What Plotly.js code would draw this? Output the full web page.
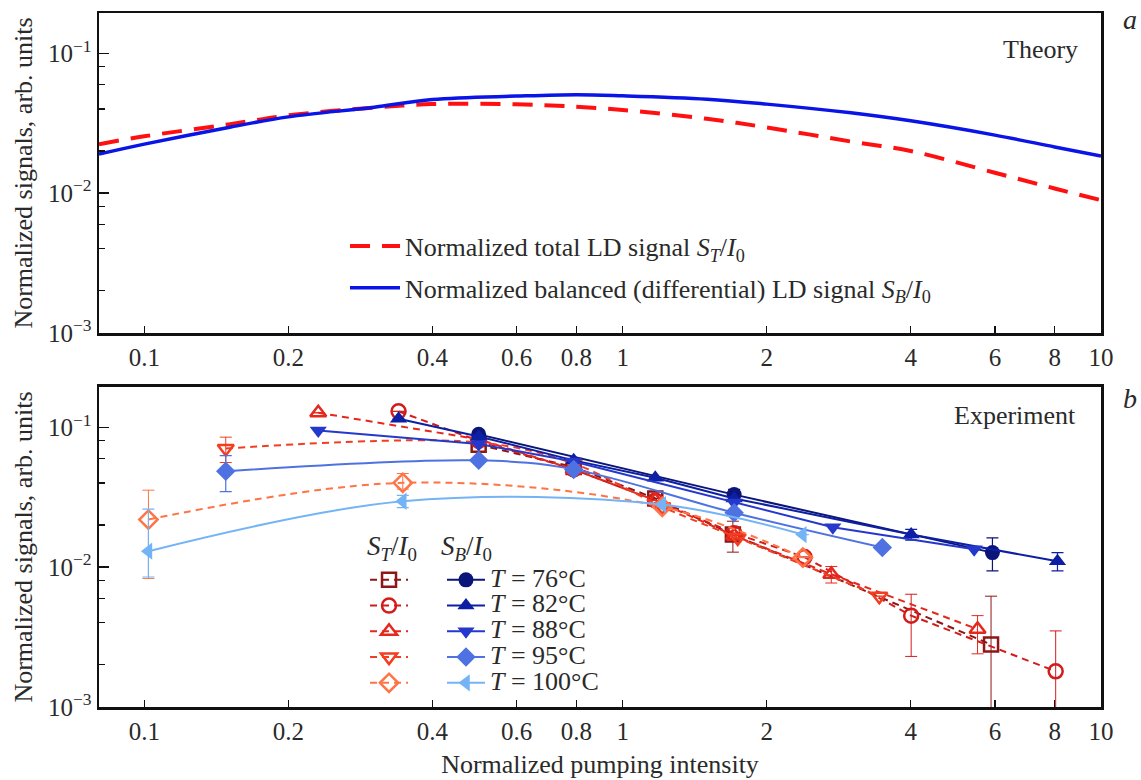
<!DOCTYPE html>
<html><head><meta charset="utf-8">
<script src="https://cdn.plot.ly/plotly-3.0.1.min.js"></script>
<style>html,body{margin:0;padding:0;background:#fff;} #chart{width:1141px;height:780px;}</style>
</head><body><div id="chart"></div>
<script>
// ---------- Theory (panel a) ----------
const thX  = [0.0804, 0.1, 0.15, 0.2, 0.3, 0.4, 0.6, 0.8, 1, 1.5, 2, 3, 4, 6, 8, 10];
const thST = [0.0224, 0.0255, 0.031, 0.036, 0.0408, 0.0433, 0.0432, 0.0415, 0.0393, 0.034, 0.0295, 0.0234, 0.020, 0.014, 0.0108, 0.0089];
const thSB = [0.019, 0.0224, 0.0295, 0.0351, 0.041, 0.0467, 0.0494, 0.0506, 0.0497, 0.047, 0.0433, 0.0375, 0.0329, 0.026, 0.0214, 0.0184];

// ---------- Experiment (panel b) : S_T / I0 ----------
const tempLabels = ['76', '82', '88', '95', '100'];
const T76x = [0.50, 0.79, 1.17, 1.70, 5.89];
const T76y = [0.075, 0.052, 0.031, 0.0171, 0.0028];
const T76ep = [0, 0, 0, 0.0042, 0.0034];
const T76em = [0, 0, 0, 0.0043, 0.0027];

const T82x = [0.34, 0.50, 0.79, 1.17, 1.71, 2.40, 4.01, 8.04];
const T82y = [0.130, 0.080, 0.050, 0.030, 0.0175, 0.0118, 0.0045, 0.0018];
const T82ep = [0, 0, 0, 0, 0, 0, 0.0019, 0.0017];
const T82em = [0, 0, 0, 0, 0, 0, 0.0022, 0.0017];

const T88x = [0.231, 0.50, 0.79, 1.17, 1.71, 2.73, 5.52];
const T88y = [0.127, 0.082, 0.050, 0.030, 0.0168, 0.0089, 0.0036];
const T88ep = [0, 0, 0, 0, 0, 0.0012, 0.0009];
const T88em = [0, 0, 0, 0, 0, 0.0012, 0.0012];

const T95x = [0.148, 0.50, 0.79, 1.21, 1.74, 3.44];
const T95y = [0.0705, 0.078, 0.055, 0.027, 0.0162, 0.0062];
const T95ep = [0.0145, 0, 0, 0, 0, 0];
const T95em = [0.0145, 0, 0, 0, 0, 0];

const T100x = [0.102, 0.347, 1.21, 2.38];
const T100y = [0.0219, 0.0401, 0.027, 0.0117];
const T100ep = [0.0136, 0.0066, 0, 0];
const T100em = [0.0136, 0.0040, 0, 0];

// ---------- Experiment (panel b) : S_B / I0 ----------
const B76x = [0.50, 1.71, 5.93];
const B76y = [0.089, 0.033, 0.0127];
const B76ep = [0, 0.003, 0.0035];
const B76em = [0, 0.003, 0.0033];

const B82x = [0.34, 0.50, 0.79, 1.17, 1.71, 4.01, 8.11];
const B82y = [0.115, 0.086, 0.058, 0.0436, 0.031, 0.0171, 0.011];
const B82ep = [0, 0, 0, 0, 0, 0.0015, 0.0017];
const B82em = [0, 0, 0, 0, 0, 0.0015, 0.0016];

const B88x = [0.231, 0.50, 0.79, 1.71, 2.75, 5.43];
const B88y = [0.0947, 0.076, 0.057, 0.029, 0.0193, 0.0134];

const B95x = [0.148, 0.50, 0.79, 1.71, 3.49];
const B95y = [0.0485, 0.058, 0.050, 0.0245, 0.0138];
const B95ep = [0.0143, 0, 0, 0, 0];
const B95em = [0.0138, 0, 0, 0, 0];

const B100x = [0.102, 0.347, 1.21, 2.38];
const B100y = [0.013, 0.0296, 0.028, 0.0171];
const B100ep = [0.013, 0.003, 0, 0];
const B100em = [0.0045, 0.003, 0, 0];

// ---------- axis ticks ----------
const xTickVals = [0.1, 0.2, 0.4, 0.6, 0.8, 1, 2, 4, 6, 8, 10];
const xTickText = ['0.1', '0.2', '0.4', '0.6', '0.8', '1', '2', '4', '6', '8', '10'];
const yTickVals = [0.001, 0.01, 0.1];
const yTickText = ['10<sup>\u22123</sup>', '10<sup>\u22122</sup>', '10<sup>\u22121</sup>'];
const yMinorVals = [0.002, 0.004, 0.006, 0.008, 0.02, 0.04, 0.06, 0.08];

const FONT = '"Liberation Serif", "Times New Roman", serif';
const TXT = '#2a2a2a';

const colT = ['#8e1616', '#d21c1c', '#e4281e', '#f23e20', '#ff7345'];
const colB = ['#0b1478', '#0d1fa3', '#2538cc', '#4f72e2', '#74b4f6'];

function tTrace(x, y, ep, em, sym, c, name, shape) {
  return {
    x: x, y: y, xaxis: 'x2', yaxis: 'y2', legend: 'legend2', name: name,
    mode: 'lines+markers', type: 'scatter',
    line: {color: c, width: 2, dash: '7px,5px', shape: shape || 'linear'},
    marker: {symbol: sym, size: 14, color: c, line: {width: 2.5, color: c}},
    error_y: {type: 'data', symmetric: false, array: ep, arrayminus: em, color: c, thickness: 1, width: 6}
  };
}
function bTrace(x, y, ep, em, sym, c, name, shape) {
  return {
    x: x, y: y, xaxis: 'x2', yaxis: 'y2', legend: 'legend3', name: name,
    mode: 'lines+markers', type: 'scatter',
    line: {color: c, width: 2, shape: shape || 'linear'},
    marker: {symbol: sym, size: 15, color: c},
    error_y: ep ? {type: 'data', symmetric: false, array: ep, arrayminus: em, color: c, thickness: 1.2, width: 6} : undefined
  };
}

const degName = t => '<span style="font-size:26px"><i>T</i> = ' + t + '\u00B0C</span>';

const traces = [
  {x: thX, y: thST, xaxis: 'x', yaxis: 'y', legend: 'legend', legendgroup: 'a',
   name: 'Normalized total LD signal <i>S</i><sub><i>T</i></sub>/<i>I</i><sub>0</sub>',
   mode: 'lines', line: {color: '#ff1010', width: 4, dash: '20px,12px', shape: 'spline'}},
  {x: thX, y: thSB, xaxis: 'x', yaxis: 'y', legend: 'legend', legendgroup: 'b',
   name: 'Normalized balanced (differential) LD signal <i>S</i><sub><i>B</i></sub>/<i>I</i><sub>0</sub>',
   mode: 'lines', line: {color: '#0a14e6', width: 3.5, shape: 'spline'}},

  tTrace(T76x, T76y, T76ep, T76em, 'square-open', colT[0], ' '),
  tTrace(T82x, T82y, T82ep, T82em, 'circle-open', colT[1], ' '),
  tTrace(T88x, T88y, T88ep, T88em, 'triangle-up-open', colT[2], ' '),
  tTrace(T95x, T95y, T95ep, T95em, 'triangle-down-open', colT[3], ' ', 'spline'),
  tTrace(T100x, T100y, T100ep, T100em, 'diamond-open', colT[4], ' ', 'spline'),

  bTrace(B76x, B76y, B76ep, B76em, 'circle', colB[0], degName(tempLabels[0])),
  bTrace(B82x, B82y, B82ep, B82em, 'triangle-up', colB[1], degName(tempLabels[1])),
  bTrace(B88x, B88y, null, null, 'triangle-down', colB[2], degName(tempLabels[2])),
  bTrace(B95x, B95y, B95ep, B95em, 'diamond', colB[3], degName(tempLabels[3]), 'spline'),
  bTrace(B100x, B100y, B100ep, B100em, 'triangle-left', colB[4], degName(tempLabels[4]), 'spline')
];

const xBase = {
  type: 'log', range: [Math.log10(0.0804), 1], domain: [0, 1],
  tickmode: 'array', tickvals: xTickVals, ticktext: xTickText,
  ticks: 'inside', ticklen: 7, tickwidth: 1.5, tickcolor: '#111',
  showline: true, mirror: true, linewidth: 2.5, linecolor: '#111',
  showgrid: false, zeroline: false,
  tickfont: {family: FONT, size: 25, color: TXT}
};
const yBase = {
  type: 'log', range: [-3, -0.712],
  tickmode: 'array', tickvals: yTickVals, ticktext: yTickText,
  ticks: 'inside', ticklen: 10, tickwidth: 1.5, tickcolor: '#111',
  minor: {tickmode: 'array', tickvals: yMinorVals, ticks: 'inside', ticklen: 6, tickwidth: 1.2, tickcolor: '#111'},
  showline: true, mirror: true, linewidth: 2.5, linecolor: '#111',
  showgrid: false, zeroline: false,
  tickfont: {family: FONT, size: 25, color: TXT},
  title: {text: 'Normalized signals, arb. units', font: {family: FONT, size: 26, color: TXT}, standoff: 8}
};

const layout = {
  width: 1141, height: 780,
  margin: {l: 99, r: 40, t: 13, b: 73},
  paper_bgcolor: '#fff', plot_bgcolor: '#fff',
  font: {family: FONT, color: TXT},
  showlegend: true,
  xaxis: Object.assign({}, xBase, {anchor: 'y'}),
  yaxis: Object.assign({}, yBase, {domain: [0.5389, 1], anchor: 'x'}),
  xaxis2: Object.assign({}, xBase, {anchor: 'y2',
    title: {text: 'Normalized pumping intensity', font: {family: FONT, size: 26, color: TXT}, standoff: 12}}),
  yaxis2: Object.assign({}, yBase, {domain: [0, 0.4611], anchor: 'x2'}),
  legend: {x: 0.2455, y: 0.698, xanchor: 'left', yanchor: 'top', bgcolor: 'rgba(0,0,0,0)',
    font: {family: FONT, size: 26, color: TXT}, itemwidth: 50, tracegroupgap: 5, traceorder: 'grouped'},
  legend2: {x: 0.2655, y: 0.209, xanchor: 'left', yanchor: 'top', bgcolor: 'rgba(0,0,0,0)',
    font: {family: FONT, size: 17.5, color: TXT}, itemwidth: 38, tracegroupgap: 0},
  legend3: {x: 0.3423, y: 0.209, xanchor: 'left', yanchor: 'top', bgcolor: 'rgba(0,0,0,0)',
    font: {family: FONT, size: 17.5, color: TXT}, itemwidth: 38, tracegroupgap: 0},
  annotations: [
    {text: 'Theory', xref: 'paper', yref: 'paper', x: 0.979, y: 0.9467, xanchor: 'right', yanchor: 'middle', showarrow: false, font: {family: FONT, size: 26, color: TXT}},
    {text: 'Experiment', xref: 'paper', yref: 'paper', x: 0.977, y: 0.4195, xanchor: 'right', yanchor: 'middle', showarrow: false, font: {family: FONT, size: 26, color: TXT}},
    {text: '<i>a</i>', xref: 'paper', yref: 'paper', x: 1.029, y: 0.99, xanchor: 'center', yanchor: 'middle', showarrow: false, font: {family: FONT, size: 28, color: TXT}},
    {text: '<i>b</i>', xref: 'paper', yref: 'paper', x: 1.029, y: 0.445, xanchor: 'center', yanchor: 'middle', showarrow: false, font: {family: FONT, size: 28, color: TXT}},
    {text: '<i>S</i><sub><i>T</i></sub>/<i>I</i><sub>0</sub>', xref: 'paper', yref: 'paper', x: 0.2925, y: 0.229, xanchor: 'center', yanchor: 'middle', showarrow: false, font: {family: FONT, size: 27, color: TXT}},
    {text: '<i>S</i><sub><i>B</i></sub>/<i>I</i><sub>0</sub>', xref: 'paper', yref: 'paper', x: 0.3665, y: 0.229, xanchor: 'center', yanchor: 'middle', showarrow: false, font: {family: FONT, size: 27, color: TXT}}
  ]
};

Plotly.newPlot('chart', traces, layout, {staticPlot: true, displayModeBar: false});
</script></body></html>
